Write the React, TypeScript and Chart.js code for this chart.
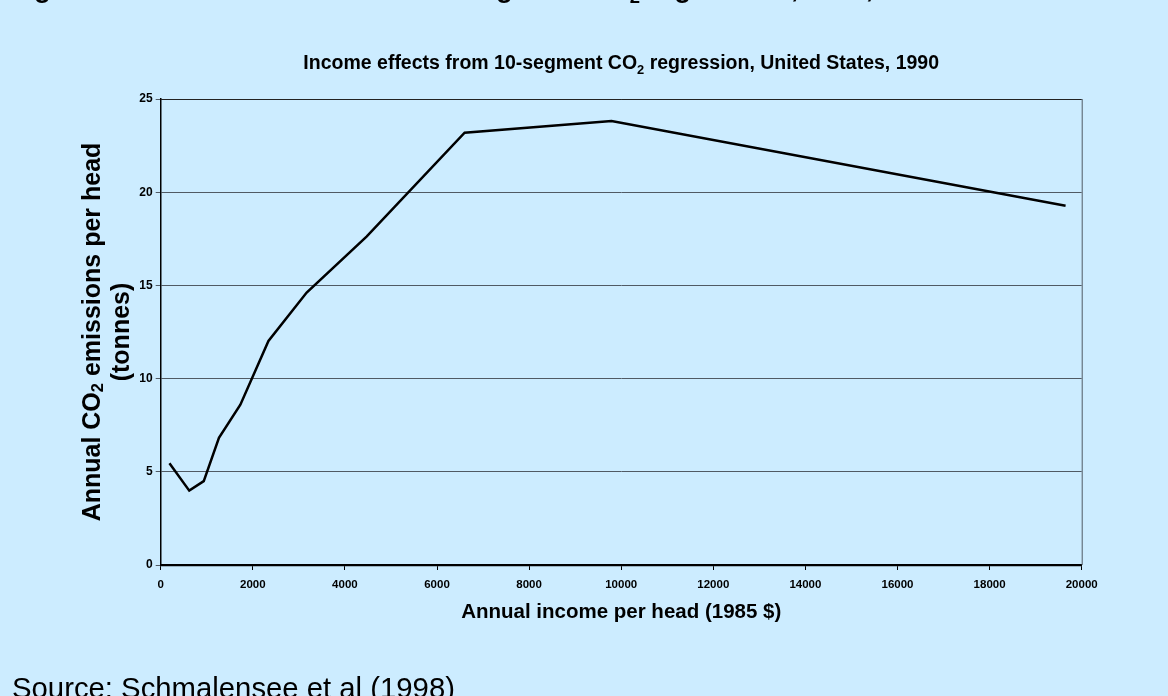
import React, { useEffect, useRef } from "react";
import { Chart, registerables } from "chart.js";

Chart.register(...registerables);

// ---- data ----
const incomePerHead = [190, 620, 935, 1265, 1730, 2340, 3170, 4470, 6600, 9790, 19650];
const co2PerHead = [5.46, 3.99, 4.5, 6.82, 8.6, 12.02, 14.62, 17.62, 23.19, 23.82, 19.27];
const xTickValues = [0, 2000, 4000, 6000, 8000, 10000, 12000, 14000, 16000, 18000, 20000];
const yTickValues = [0, 5, 10, 15, 20, 25];

const chartTitleParts = [
  { t: "Income effects from 10-segment CO" },
  { t: "2", sub: true },
  { t: " regression, United States, 1990" },
];
const yTitleLine1 = [{ t: "Annual CO" }, { t: "2", sub: true }, { t: " emissions per head" }];
const yTitleLine2 = [{ t: "(tonnes)" }];
const xTitleText = "Annual income per head (1985 $)";
const figureTitleParts = [
  { t: "Figure 10: Income effects from 10-segment CO" },
  { t: "2", sub: true },
  { t: " regression, USA, 1990" },
];
const sourceText = "Source: Schmalensee et al (1998)";

const FAMILY = '"Liberation Sans", Arial, Helvetica, sans-serif';

type Part = { t: string; sub?: boolean };

function drawRich(
  ctx: CanvasRenderingContext2D,
  parts: Part[],
  x: number,
  y: number,
  size: number,
  weight: string,
  align: "center" | "left",
  subShift = 0.28
) {
  const subSize = size * 0.66;
  const widths = parts.map((p) => {
    ctx.font = `${weight} ${p.sub ? subSize : size}px ${FAMILY}`;
    return ctx.measureText(p.t).width;
  });
  const total = widths.reduce((a, b) => a + b, 0);
  let cx = align === "center" ? x - total / 2 : x;
  ctx.textAlign = "left";
  parts.forEach((p, i) => {
    ctx.font = `${weight} ${p.sub ? subSize : size}px ${FAMILY}`;
    ctx.fillText(p.t, cx, p.sub ? y + size * subShift : y);
    cx += widths[i];
  });
}

const textPlugin = {
  id: "customTexts",
  afterDraw(chart: any) {
    const ctx: CanvasRenderingContext2D = chart.ctx;
    const a = chart.chartArea;
    const midX = (a.left + a.right) / 2;
    const midY = (a.top + a.bottom) / 2;
    ctx.save();
    ctx.fillStyle = "#000";
    ctx.textBaseline = "alphabetic";

    // clipped figure title at the very top
    drawRich(ctx, figureTitleParts, 9, -3, 28, "bold", "left", 0.21);

    // chart title
    drawRich(ctx, chartTitleParts, midX, 69, 19.5, "bold", "center", 0.26);

    // x axis title
    ctx.textBaseline = "middle";
    drawRich(ctx, [{ t: xTitleText }], midX, 612, 20.5, "bold", "center");

    // y axis title (rotated)
    ctx.save();
    ctx.translate(93, midY);
    ctx.rotate(-Math.PI / 2);
    drawRich(ctx, yTitleLine1, 0, 0, 25, "bold", "center", 0.22);
    ctx.restore();
    ctx.save();
    ctx.translate(122, midY);
    ctx.rotate(-Math.PI / 2);
    drawRich(ctx, yTitleLine2, 0, 0, 25, "bold", "center");
    ctx.restore();

    // source
    ctx.textBaseline = "alphabetic";
    drawRich(ctx, [{ t: sourceText }], 12, 698, 29.3, "normal", "left");

    // plot border top/right
    ctx.strokeStyle = "#222";
    ctx.lineWidth = 1;
    ctx.beginPath();
    ctx.moveTo(a.left, a.top + 0.5);
    ctx.lineTo(a.right, a.top + 0.5);
    ctx.stroke();
    ctx.strokeStyle = "#505a64";
    ctx.beginPath();
    ctx.moveTo(a.right + 0.5, a.top);
    ctx.lineTo(a.right + 0.5, a.bottom);
    ctx.stroke();
    ctx.restore();
  },
};

export default function App() {
  const ref = useRef<HTMLCanvasElement | null>(null);

  useEffect(() => {
    if (!ref.current) return;
    const chart = new Chart(ref.current, {
      type: "line",
      data: {
        datasets: [
          {
            data: incomePerHead.map((x, i) => ({ x, y: co2PerHead[i] })),
            borderColor: "#000",
            borderWidth: 2.5,
            pointRadius: 0,
            tension: 0,
            fill: false,
          },
        ],
      },
      options: {
        animation: false,
        responsive: false,
        events: [],
        layout: { padding: { left: 0, top: 99, right: 86.3, bottom: 0 } },
        plugins: {
          legend: { display: false },
          title: { display: false },
          tooltip: { enabled: false },
        },
        scales: {
          x: {
            type: "linear",
            min: 0,
            max: 20000,
            afterBuildTicks: (scale: any) => {
              scale.ticks = xTickValues.map((v) => ({ value: v }));
            },
            afterFit: (scale: any) => {
              scale.height = 131;
            },
            ticks: {
              color: "#000",
              font: { family: FAMILY, size: 11.5, weight: "bold" },
              padding: 8,
              maxRotation: 0,
              autoSkip: false,
              callback: (v: any) => String(v),
            },
            grid: { drawOnChartArea: false, tickLength: 5, color: "#000" },
            border: { color: "#000", width: 2.2 },
          },
          y: {
            type: "linear",
            min: 0,
            max: 25,
            afterBuildTicks: (scale: any) => {
              scale.ticks = yTickValues.map((v) => ({ value: v }));
            },
            afterFit: (scale: any) => {
              scale.width = 160.7;
            },
            ticks: {
              color: "#000",
              font: { family: FAMILY, size: 12, weight: "bold" },
              padding: 3,
              autoSkip: false,
              callback: (v: any) => String(v),
            },
            grid: { color: "#505a64", lineWidth: 1, tickLength: 5 },
            border: { color: "#000", width: 1.5 },
          },
        },
      },
      plugins: [textPlugin],
    } as any);
    return () => chart.destroy();
  }, []);

  return (
    <div
      style={{
        position: "fixed",
        left: 0,
        top: 0,
        width: 1168,
        height: 696,
        background: "#CCECFF",
        overflow: "hidden",
      }}
    >
      <canvas ref={ref} width={1168} height={696} style={{ display: "block" }} />
    </div>
  );
}
